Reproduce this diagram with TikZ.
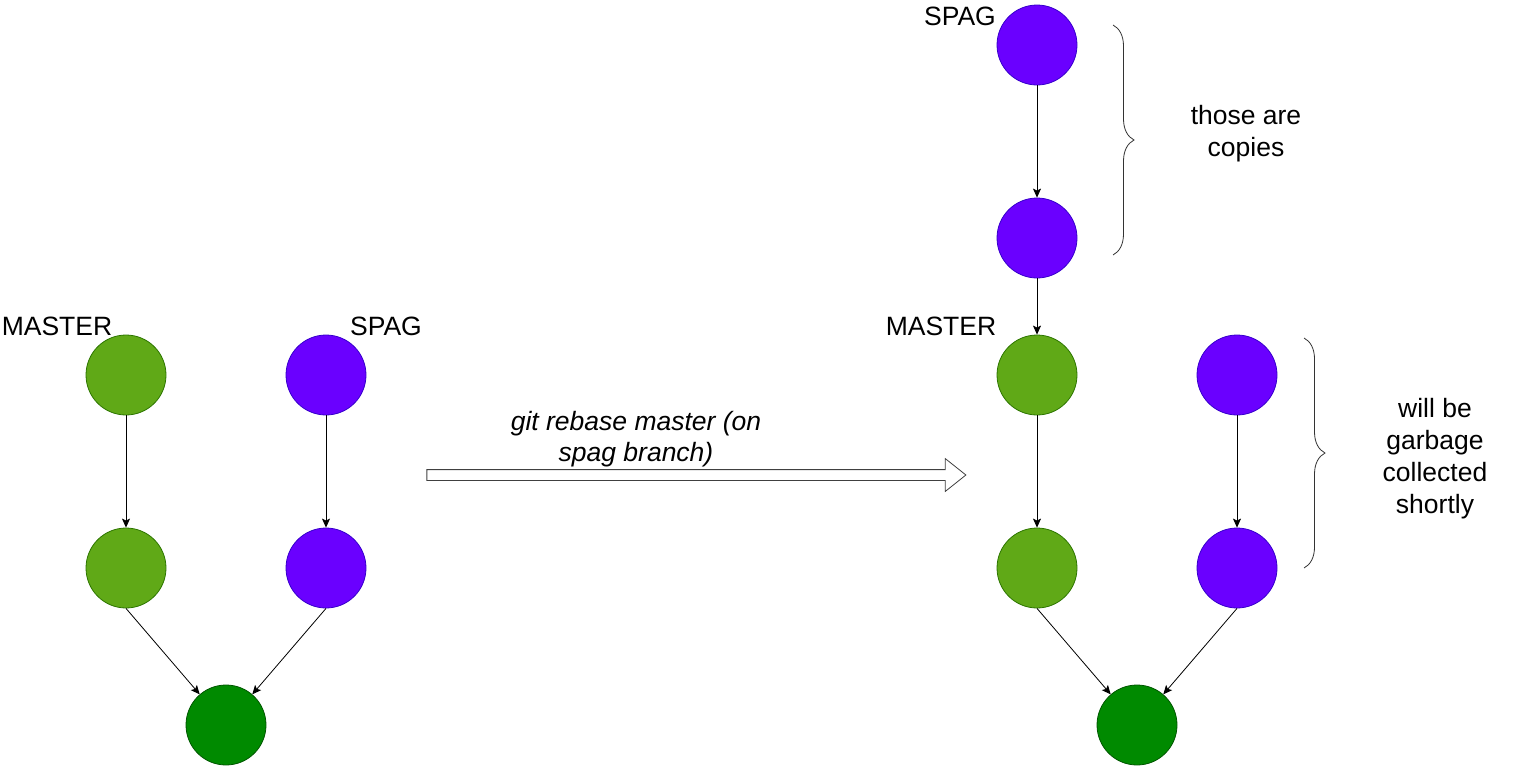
\documentclass[tikz,border=0pt]{standalone}
\usepackage{fontspec}
\setmainfont{Liberation Sans}
\usepackage{tikz}
\usetikzlibrary{shapes.arrows, arrows.meta, positioning, decorations.pathreplacing}
\definecolor{mastergreen}{HTML}{60A917}
\definecolor{masterline}{HTML}{2D7600}
\definecolor{spagpurple}{HTML}{6A00FF}
\definecolor{spagline}{HTML}{3700CC}
\definecolor{basegreen}{HTML}{008A00}
\definecolor{baseline}{HTML}{005700}
\tikzstyle{commit} = [circle, minimum size=80pt, inner sep=0pt, line width=0.8pt]
\tikzstyle{mastercommit} = [commit, fill=mastergreen, draw=masterline]
\tikzstyle{spagcommit} = [commit, fill=spagpurple, draw=spagline]
\tikzstyle{basecommit} = [commit, fill=basegreen, draw=baseline]
\tikzstyle{branchlabel} = [anchor=base, inner sep=0pt, font=\fontsize{26.5}{32}\selectfont]
\tikzstyle{note} = [align=center, inner sep=0pt, font=\fontsize{26.5}{32}\selectfont]
\tikzstyle{arrow} = [line width=0.8pt, ->, >={Stealth[length=9pt, width=8pt, inset=2pt]}]
\tikzstyle{bracket} = [draw=black!80, line width=0.8pt, decorate, decoration={brace, amplitude=21pt}]

\begin{document}
\begin{tikzpicture}[node distance=193pt]
        \useasboundingbox (0,0) rectangle (1526pt,-766pt);

        % before the rebase
        \node (m1) [mastercommit] at (126pt,-375pt) {};
        \node (m2) [mastercommit, below of=m1] {};
        \node (s1) [spagcommit, right of=m1, xshift=7pt] {};
        \node (s2) [spagcommit, below of=s1] {};
        \node (base) [basecommit, below of=m2, xshift=100pt, yshift=36pt] {};
        \node (mlabel) [branchlabel] at (57pt,-335pt) {MASTER};
        \node (slabel) [branchlabel] at (386pt,-335pt) {SPAG};

        % after the rebase
        \node (rm1) [mastercommit] at (1037pt,-375pt) {};
        \node (rm2) [mastercommit, below of=rm1] {};
        \node (rs1) [spagcommit, right of=rm1, xshift=7pt] {};
        \node (rs2) [spagcommit, below of=rs1] {};
        \node (rbase) [basecommit, below of=rm2, xshift=100pt, yshift=36pt] {};
        \node (c2) [spagcommit, above of=rm1, yshift=-56pt] {};
        \node (c1) [spagcommit, above of=c2] {};
        \node (rmlabel) [branchlabel] at (941pt,-335pt) {MASTER};
        \node (cslabel) [branchlabel] at (960pt,-25pt) {SPAG};

        % rebase arrow
        \node (rebase) [single arrow, draw=black!75, line width=0.8pt, inner sep=5pt,
            minimum height=539pt, single arrow head extend=11pt,
            single arrow tip angle=77] at (693pt,-475pt) {};
        \node (rebasetext) [note, font=\fontsize{26.5}{31}\selectfont\itshape] at (636pt,-439pt)
            {git rebase master (on\\spag branch)};

        \draw [arrow] (m1) -- (m2);
        \draw [arrow] (s1) -- (s2);
        \draw [arrow] (m2.south) -- (base);
        \draw [arrow] (s2.south) -- (base);

        \draw [arrow] (c1) -- (c2);
        \draw [arrow] (c2) -- (rm1);
        \draw [arrow] (rm1) -- (rm2);
        \draw [arrow] (rs1) -- (rs2);
        \draw [arrow] (rm2.south) -- (rbase);
        \draw [arrow] (rs2.south) -- (rbase);

        % braces
        \draw [bracket] (1113pt,-25pt) -- (1113pt,-255pt);
        \draw [bracket] (1304pt,-338pt) -- (1304pt,-568pt);
        \node (copies) [note] at (1246pt,-134pt) {those are\\copies};
        \node (garbage) [note] at (1435pt,-459pt) {will be\\garbage\\collected\\shortly};
    \end{tikzpicture}
\end{document}
